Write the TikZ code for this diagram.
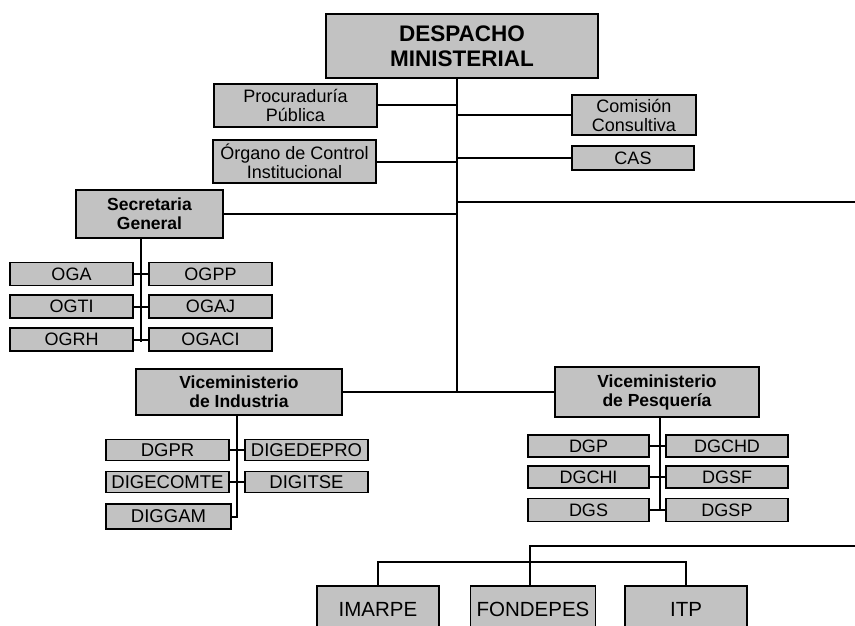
\documentclass[tikz,border=0pt]{standalone}
\usepackage{fontspec}
\setmainfont{Liberation Sans}
\begin{document}
\begin{tikzpicture}[x=1pt,y=-1pt,
  box/.style={draw=black, line width=1.6pt, fill=black!24, inner sep=0pt, align=center,
              font=\fontsize{18}{19}\selectfont},
  bbox/.style={box, font=\bfseries\fontsize{17.5}{19}\selectfont},
  big/.style={box, font=\bfseries\fontsize{22.5}{25}\selectfont},
  low/.style={box, font=\fontsize{20.5}{22}\selectfont, minimum height=46pt},
  ind/.style={font=\fontsize{18.5}{19}\selectfont},
  sm/.style={minimum width=123pt, minimum height=23pt},
  conn/.style={line width=2pt, line cap=rect}]
\useasboundingbox (0,0) rectangle (855,626);

% top level
\node[big, minimum width=272pt, minimum height=64pt] (desp) at (462,46) {DESPACHO\\MINISTERIAL};
\node[box, minimum width=163pt, minimum height=43pt] (proc) at (295.5,105.5) {Procuraduría\\Pública};
\node[box, minimum width=163pt, minimum height=43pt] (org) at (294.5,161.5) {Órgano de Control\\Institucional};
\node[box, minimum width=124pt, minimum height=40pt] (com) at (634,115) {Comisión\\Consultiva};
\node[box, minimum width=122pt, minimum height=24pt] (cas) at (633,158) {CAS};
\node[bbox, minimum width=147pt, minimum height=48pt] (sec) at (149.5,214) {Secretaria\\General};

% secretaria offices
\node[box, sm] (oga)   at (71.5,274)   {OGA};
\node[box, sm] (ogpp)  at (210.5,274)  {OGPP};
\node[box, sm] (ogti)  at (71.5,306.5) {OGTI};
\node[box, sm] (ogaj)  at (210.5,306.5){OGAJ};
\node[box, sm] (ogrh)  at (71.5,339.5) {OGRH};
\node[box, sm] (ogaci) at (210.5,339.5){OGACI};

% viceministerios
\node[bbox, minimum width=206pt, minimum height=46pt] (vind) at (239,392) {Viceministerio\\de Industria};
\node[bbox, minimum width=204pt, minimum height=50pt] (vpes) at (657,392) {Viceministerio\\de Pesquería};

% industria
\node[box, ind, sm, minimum height=21pt] (dgpr)      at (167.5,450) {DGPR};
\node[box, ind, sm, minimum height=21pt] (digedepro) at (306.5,450) {DIGEDEPRO};
\node[box, ind, sm, minimum height=21pt] (digecomte) at (167.5,482) {DIGECOMTE};
\node[box, ind, sm, minimum height=21pt] (digitse)   at (306.5,482) {DIGITSE};
\node[box, ind, sm, minimum width=125pt, minimum height=25pt] (diggam) at (168.5,516.5) {DIGGAM};

% pesqueria
\node[box, sm, minimum width=121pt, minimum height=22pt] (dgp)   at (588.5,446) {DGP};
\node[box, sm, minimum width=122pt, minimum height=22pt] (dgchd) at (727,446)   {DGCHD};
\node[box, sm, minimum width=121pt, minimum height=22pt] (dgchi) at (588.5,477) {DGCHI};
\node[box, sm, minimum width=122pt, minimum height=22pt] (dgsf)  at (727,477)   {DGSF};
\node[box, sm, minimum width=121pt, minimum height=23pt] (dgs)   at (588.5,510) {DGS};
\node[box, sm, minimum width=122pt, minimum height=23pt] (dgsp)  at (727,510)   {DGSP};

% bottom organisms
\node[low, minimum width=122pt] (imarpe)   at (378,609) {IMARPE};
\node[low, minimum width=125pt] (fondepes) at (533,609) {FONDEPES};
\node[low, minimum width=122pt] (itp)      at (686,609) {ITP};

% coordinates
\coordinate (sp) at (457,392);
\coordinate (r1) at (855,202);
\coordinate (sv) at (141,341);
\coordinate (iv) at (237,516.5);
\coordinate (pv) at (660,510);
\coordinate (r2) at (855,546);
\coordinate (h2) at (0,562);
\coordinate (fx) at (530,0);

% connectors
\draw[conn] (desp.south -| sp) -- (sp);
\draw[conn] (proc.east) -- (proc.east -| sp);
\draw[conn] (org.east) -- (org.east -| sp);
\draw[conn] (sec.east) -- (sec.east -| sp);
\draw[conn] (com.west) -- (com.west -| sp);
\draw[conn] (cas.west) -- (cas.west -| sp);
\draw[conn] (r1 -| sp) -- (r1);
\draw[conn] (vind.east) -- (vpes.west);

\draw[conn] (sec.south -| sv) -- (sv);
\draw[conn] (oga.east) -- (ogpp.west);
\draw[conn] (ogti.east) -- (ogaj.west);
\draw[conn] (ogrh.east) -- (ogaci.west);

\draw[conn] (vind.south -| iv) -- (iv);
\draw[conn] (dgpr.east) -- (digedepro.west);
\draw[conn] (digecomte.east) -- (digitse.west);
\draw[conn] (diggam.east) -- (iv);

\draw[conn] (vpes.south -| pv) -- (pv);
\draw[conn] (dgp.east) -- (dgchd.west);
\draw[conn] (dgchi.east) -- (dgsf.west);
\draw[conn] (dgs.east) -- (dgsp.west);

\draw[conn] (r2) -- (r2 -| fx) -- (fondepes.north -| fx);
\draw[conn] (imarpe.north) -- (imarpe.north |- h2) -- (itp.north |- h2) -- (itp.north);
\end{tikzpicture}
\end{document}
